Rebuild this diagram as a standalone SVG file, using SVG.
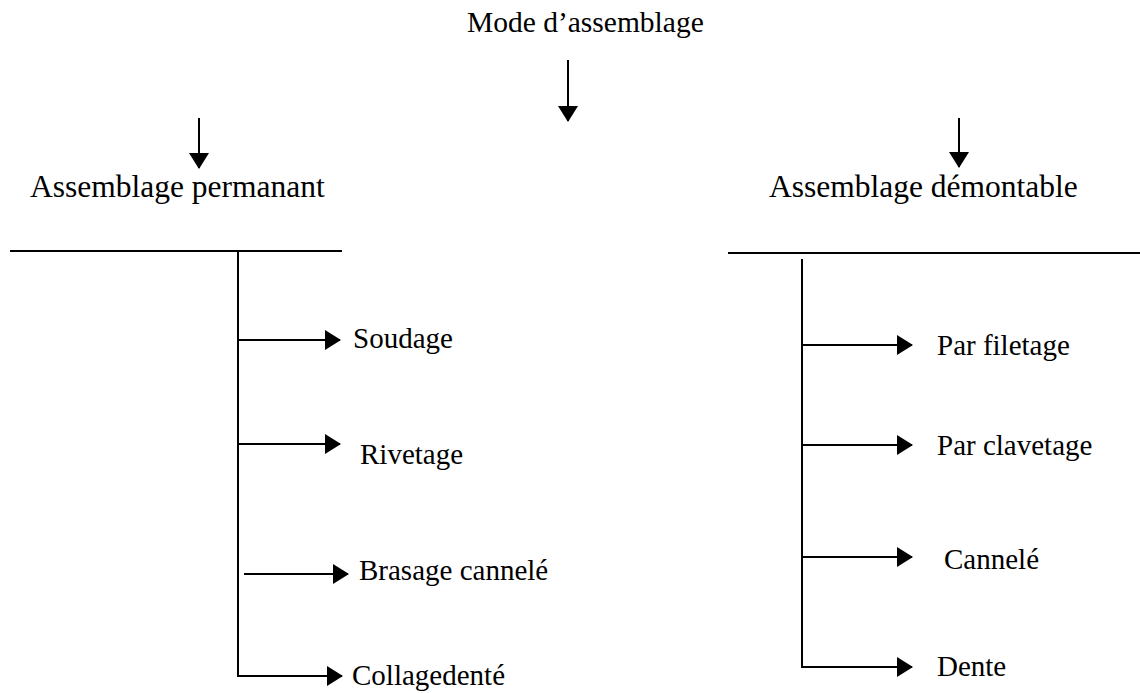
<svg xmlns="http://www.w3.org/2000/svg" width="1140" height="693" viewBox="0 0 1140 693">
<style>
text{font-family:"Liberation Serif","Times New Roman",serif;fill:#000}
.t{font-size:29.5px}
.h{font-size:31.5px}
.i{font-size:29px}
.ln{stroke:#000;stroke-width:2;fill:none}
.ar{stroke:#000;stroke-width:2;fill:none;marker-end:url(#ah)}
</style>
<defs>
<marker id="ah" markerUnits="userSpaceOnUse" markerWidth="16" markerHeight="20" refX="15" refY="10" orient="auto" viewBox="0 0 16 20">
<path d="M0,0 L16,10 L0,20 Z" fill="#000"/>
</marker>
</defs>
<g id="title"><text class="t" x="467" y="32">Mode d’assemblage</text></g>
<g id="permanent"><text class="h" x="30" y="197">Assemblage permanant</text></g>
<g id="demontable"><text class="h" x="769" y="197">Assemblage démontable</text></g>
<g id="soudage"><text class="i" x="353" y="348">Soudage</text></g>
<g id="rivetage"><text class="i" x="360" y="464">Rivetage</text></g>
<g id="brasage"><text class="i" x="359" y="580">Brasage cannelé</text></g>
<g id="collage"><text class="i" x="352" y="685">Collagedenté</text></g>
<g id="filetage"><text class="i" x="937" y="355">Par filetage</text></g>
<g id="clavetage"><text class="i" x="937" y="455">Par clavetage</text></g>
<g id="cannele"><text class="i" x="944" y="569">Cannelé</text></g>
<g id="dente"><text class="i" x="937" y="676">Dente</text></g>
<g id="connectors">
<line class="ar" x1="568" y1="60" x2="568" y2="121"/>
<line class="ar" x1="199" y1="118" x2="199" y2="168"/>
<line class="ar" x1="959" y1="118" x2="959" y2="167"/>
<line class="ln" x1="10" y1="251" x2="342" y2="251"/>
<polyline class="ln" points="238,251 238,676"/>
<line class="ar" x1="238" y1="340" x2="340" y2="340"/>
<line class="ar" x1="238" y1="444" x2="340" y2="444"/>
<line class="ar" x1="244" y1="574" x2="348" y2="574"/>
<line class="ar" x1="237" y1="676" x2="342" y2="676"/>
<line class="ln" x1="728" y1="253" x2="1140" y2="253"/>
<polyline class="ln" points="802,259 802,667"/>
<line class="ar" x1="802" y1="345" x2="912" y2="345"/>
<line class="ar" x1="802" y1="445" x2="912" y2="445"/>
<line class="ar" x1="802" y1="557" x2="912" y2="557"/>
<line class="ar" x1="801" y1="667" x2="912" y2="667"/>
</g>
</svg>
